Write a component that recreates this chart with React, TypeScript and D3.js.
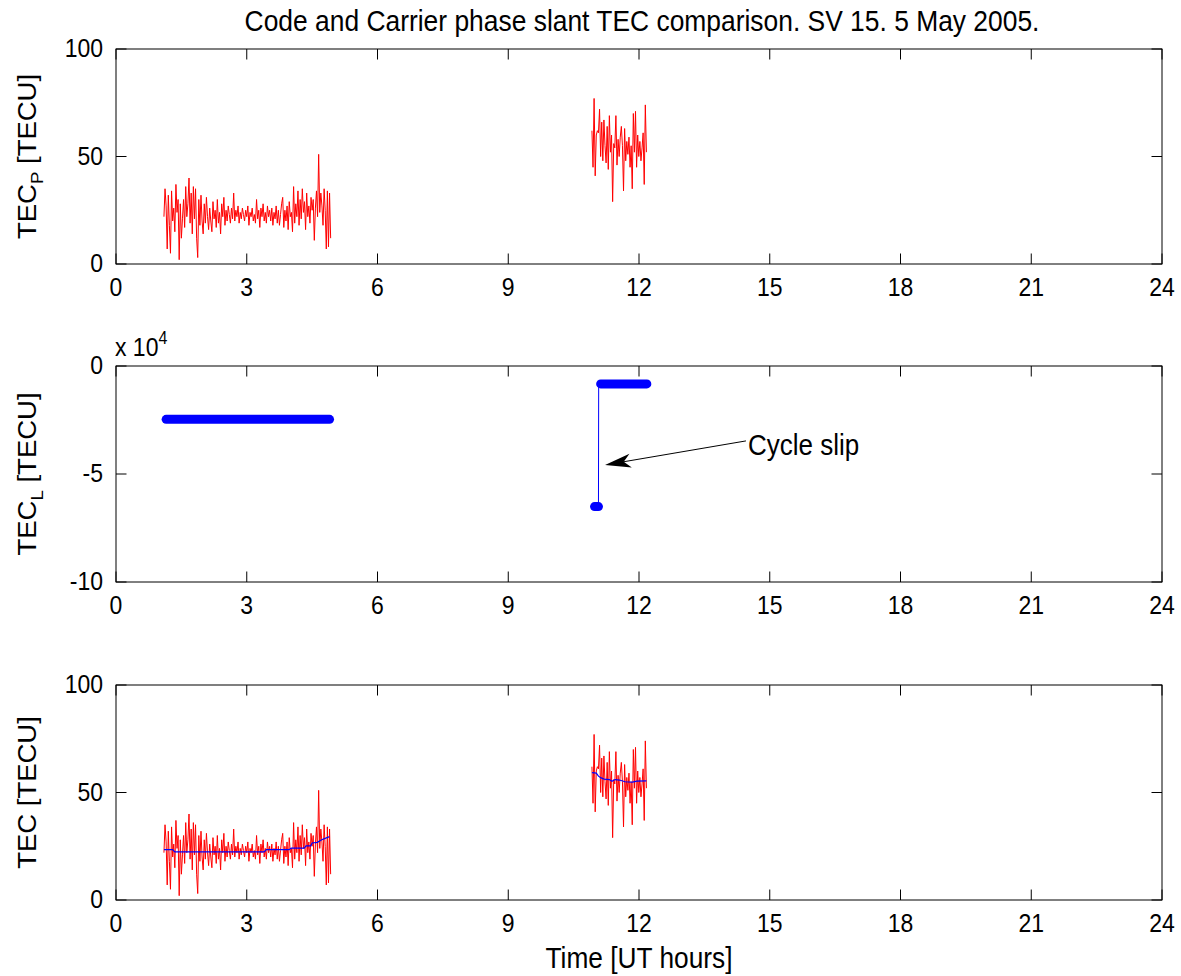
import React from "react";
import * as d3 from "d3";

// ---------------- DATA ----------------
const titleText = "Code and Carrier phase slant TEC comparison. SV 15. 5 May 2005.";
const xTicks = [0, 3, 6, 9, 12, 15, 18, 21, 24];
const tecTicks = [0, 50, 100];
const tecLTicks = [-10, -5, 0]; // x 10^4

const sampleStep = 0.025; // hours between samples
const passAStart = 1.1;
const passATecP = [
  22, 35, 27, 7, 32, 18, 5, 34, 20, 26, 15, 37, 24, 30, 2, 28, 12, 21, 30, 17,
  36, 22, 28, 40, 19, 33, 14, 36, 21, 35, 12, 3, 30, 18, 32, 20, 14, 28, 19, 31,
  22, 16, 26, 20, 15, 29, 21, 25, 17, 30, 19, 24, 14, 28, 22, 31, 18, 25, 20, 27,
  23, 19, 26, 21, 33, 20, 25, 22, 27, 19, 24, 21, 26, 23, 20, 25, 22, 27, 18, 24,
  22, 26, 20, 23, 19, 30, 21, 25, 17, 26, 22, 28, 20, 24, 19, 27, 22, 25, 20, 26,
  18, 24, 21, 27, 19, 25, 18, 23, 28, 31, 17, 25, 20, 27, 16, 29, 22, 24, 15, 36,
  19, 28, 22, 34, 18, 30, 21, 35, 24, 29, 16, 33, 22, 27, 19, 31, 25, 30, 11, 26,
  34, 22, 51, 24, 33, 27, 18, 35, 25, 7, 34, 8, 33, 12,
];
const passBStart = 10.92;
const passBTecP = [
  62, 45, 77, 41, 60, 62, 61, 72, 50, 66, 48, 67, 55, 47, 64, 44, 69, 52, 60, 29,
  56, 54, 69, 46, 58, 50, 59, 64, 55, 34, 63, 48, 57, 51, 59, 45, 55, 35, 70, 52,
  71, 45, 60, 50, 57, 48, 54, 61, 37, 74, 52,
];

// Smoothed (levelled) TEC, [hour, TECU]
const passASmooth: [number, number][] = [
  [1.1, 23.4], [1.3, 23.4], [1.35, 22.4], [3.4, 22.4], [3.45, 23.4], [3.97, 23.4],
  [4.02, 24.1], [4.32, 24.1], [4.36, 25.2], [4.47, 25.2], [4.5, 26.5], [4.62, 26.8],
  [4.72, 28.0], [4.9, 29.5],
];
const passBSmooth: [number, number][] = [
  [10.92, 59.2], [11.02, 59.0], [11.07, 57.6], [11.12, 56.9], [11.2, 56.2], [11.32, 56.0],
  [11.38, 55.2], [11.45, 56.0], [11.55, 55.8], [11.68, 55.0], [11.85, 54.8], [11.95, 55.3],
  [12.17, 55.4],
];

// Carrier phase TEC (x 10^4 TECU): constant arcs
const tecLArcs = [
  { t0: 1.15, t1: 4.9, v: -2.47 },
  { t0: 10.98, t1: 11.07, v: -6.51 },
  { t0: 11.12, t1: 12.18, v: -0.83 },
];
const tecLJump: [number, number][] = [
  [10.98, -6.51], [11.07, -6.51], [11.075, -0.83], [12.18, -0.83],
];
const slipLabel = "Cycle slip";
const slipText: [number, number] = [14.5, -3.7];
const slipTip: [number, number] = [11.22, -4.58];

// ---------------- LAYOUT ----------------
const W = 1181, H = 976;
const X0 = 116, X1 = 1162;
const panels = [
  { top: 49, bottom: 264 },
  { top: 366, bottom: 582 },
  { top: 685, bottom: 900 },
];
const FONT = "'Liberation Sans', Arial, Helvetica, sans-serif";
const FY = 1.1;
const TICK = 10.5;

const x = d3.scaleLinear().domain([0, 24]).range([X0, X1]);

function Txt({ x: tx, y: ty, size, anchor = "start", children, rotate = false }: any) {
  const tr = rotate
    ? `translate(${tx},${ty}) rotate(-90) scale(${FY},1)`
    : `translate(${tx},${ty}) scale(1,${FY})`;
  return (
    <text transform={tr} fontSize={size} fontFamily={FONT} textAnchor={anchor} fill="#000">
      {children}
    </text>
  );
}

function Axes({ y, yTicks, p }: any) {
  return (
    <g>
      <rect x={X0} y={p.top} width={X1 - X0} height={p.bottom - p.top} fill="none" stroke="#000" strokeWidth={1} />
      {xTicks.map((t) => (
        <g key={"x" + t}>
          <line x1={x(t)} x2={x(t)} y1={p.bottom} y2={p.bottom - TICK} stroke="#000" />
          <line x1={x(t)} x2={x(t)} y1={p.top} y2={p.top + TICK} stroke="#000" />
          <Txt x={x(t)} y={p.bottom + 32} size={23} anchor="middle">{t}</Txt>
        </g>
      ))}
      {yTicks.map((v: number) => (
        <g key={"y" + v}>
          <line x1={X0} x2={X0 + TICK} y1={y(v)} y2={y(v)} stroke="#000" />
          <line x1={X1} x2={X1 - TICK} y1={y(v)} y2={y(v)} stroke="#000" />
          <Txt x={103} y={y(v) + 8} size={23} anchor="end">{v}</Txt>
        </g>
      ))}
    </g>
  );
}

export default function App() {
  const yP = d3.scaleLinear().domain([0, 100]).range([panels[0].bottom, panels[0].top]);
  const yL = d3.scaleLinear().domain([-10, 0]).range([panels[1].bottom, panels[1].top]);
  const yT = d3.scaleLinear().domain([0, 100]).range([panels[2].bottom, panels[2].top]);

  const seriesA: [number, number][] = passATecP.map((v, i) => [passAStart + i * sampleStep, v]);
  const seriesB: [number, number][] = passBTecP.map((v, i) => [passBStart + i * sampleStep, v]);

  const lineP = d3.line<[number, number]>().x((d) => x(d[0])).y((d) => yP(d[1]));
  const lineT = d3.line<[number, number]>().x((d) => x(d[0])).y((d) => yT(d[1]));
  const lineL = d3.line<[number, number]>().x((d) => x(d[0])).y((d) => yL(d[1]));

  // arrow
  const tx = x(slipText[0]) - 2, ty = yL(slipText[1]) - 5;
  const hx = x(slipTip[0]), hy = yL(slipTip[1]);
  const ang = Math.atan2(ty - hy, tx - hx);
  const L = 26, HW = 7, N = 19;
  const ux = Math.cos(ang), uy = Math.sin(ang);
  const px = -uy, py = ux;
  const head = [
    [hx, hy],
    [hx + ux * L + px * HW, hy + uy * L + py * HW],
    [hx + ux * N, hy + uy * N],
    [hx + ux * L - px * HW, hy + uy * L - py * HW],
  ];

  const midY = (p: any) => (p.top + p.bottom) / 2;

  return (
    <div style={{ position: "absolute", left: 0, top: 0 }}>
      <svg width={W} height={H} style={{ display: "block", background: "#fff" }}>
        <rect width={W} height={H} fill="#fff" />
        <Txt x={(X0 + X1) / 2 + 3} y={31} size={26.4} anchor="middle">{titleText}</Txt>

        {/* Panel 1 */}
        <Axes y={yP} yTicks={tecTicks} p={panels[0]} />
        <path d={lineP(seriesA)!} fill="none" stroke="#ff0000" strokeWidth={1} />
        <path d={lineP(seriesB)!} fill="none" stroke="#ff0000" strokeWidth={1} />
        <Txt x={36} y={midY(panels[0])} size={25} anchor="middle" rotate>
          TEC<tspan fontSize={17} dy={7}>P</tspan><tspan dy={-7}> [TECU]</tspan>
        </Txt>

        {/* Panel 2 */}
        <Axes y={yL} yTicks={tecLTicks} p={panels[1]} />
        <Txt x={115} y={356} size={23}>x 10<tspan fontSize={16} dy={-11}>4</tspan></Txt>
        <path d={lineL(tecLJump)!} fill="none" stroke="#0000ff" strokeWidth={1} />
        {tecLArcs.map((a, i) => (
          <line key={i} x1={x(a.t0)} x2={x(a.t1)} y1={yL(a.v)} y2={yL(a.v)} stroke="#0000ff" strokeWidth={9} strokeLinecap="round" />
        ))}
        <line x1={tx} y1={ty} x2={hx + ux * N} y2={hy + uy * N} stroke="#000" strokeWidth={1} />
        <polygon points={head.map((d) => d.join(",")).join(" ")} fill="#000" />
        <Txt x={x(slipText[0])} y={yL(slipText[1]) + 9} size={26} >{slipLabel}</Txt>
        <Txt x={36} y={midY(panels[1])} size={25} anchor="middle" rotate>
          TEC<tspan fontSize={17} dy={7}>L</tspan><tspan dy={-7}> [TECU]</tspan>
        </Txt>

        {/* Panel 3 */}
        <Axes y={yT} yTicks={tecTicks} p={panels[2]} />
        <path d={lineT(seriesA)!} fill="none" stroke="#ff0000" strokeWidth={1} />
        <path d={lineT(seriesB)!} fill="none" stroke="#ff0000" strokeWidth={1} />
        <path d={lineT(passASmooth)!} fill="none" stroke="#0000ff" strokeWidth={1.2} />
        <path d={lineT(passBSmooth)!} fill="none" stroke="#0000ff" strokeWidth={1.2} />
        <Txt x={36} y={midY(panels[2])} size={25} anchor="middle" rotate>TEC [TECU]</Txt>
        <Txt x={(X0 + X1) / 2} y={968} size={26.3} anchor="middle">Time [UT hours]</Txt>
      </svg>
    </div>
  );
}
